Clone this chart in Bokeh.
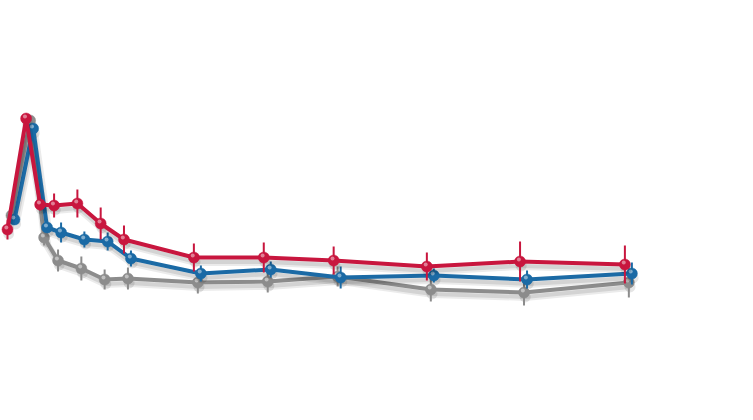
from bokeh.plotting import figure
from bokeh.models import Range1d, ColumnDataSource
from bokeh.embed import file_html
from bokeh.resources import INLINE

# time points (hours)
hours = [0, 0.8, 1.4, 2, 3, 4, 5, 8, 11, 14, 18, 22, 26.5]

red_vals = [50.5, 106, 63, 62.5, 63.5, 53.5, 45.5, 36.5, 36.5, 35, 32, 34.5, 33]
red_err = [5, 0, 3, 6, 7, 8, 7, 7, 7.5, 7, 7, 10, 9.5]

blue_vals = [55.5, 101, 51.5, 49, 45.5, 44.5, 36, 28.5, 30.5, 26.5, 27.5, 25.5, 28.5]
blue_err = [2, 0, 2.5, 5, 4, 4.5, 4, 4, 4, 5.5, 3.5, 4.5, 5.5]

gray_vals = [57.5, 105, 46.5, 35, 31, 25.5, 26, 24, 24.5, 27, 20.5, 19, 24]
gray_err = [2, 0, 4, 5.5, 6, 5, 5.5, 5.5, 5.5, 5, 6, 6.5, 7.5]

series = [
    ("gray", gray_vals, gray_err, "#8c8c8c", 0.0),
    ("blue", blue_vals, blue_err, "#1b6aa5", 0.13),
    ("red", red_vals, red_err, "#c8163e", -0.17),
]

p = figure(width=753, height=420, output_backend="svg", toolbar_location=None,
           x_range=Range1d(-0.47, 31.85), y_range=Range1d(-45, 165),
           min_border=0, outline_line_color=None)
p.axis.visible = False
p.grid.visible = False
p.background_fill_color = "white"
p.border_fill_color = "white"

for name, vals, errs, color, dx in series:
    xs = [h + dx for h in hours]
    src = ColumnDataSource(dict(
        x=xs, y=vals,
        lo=[v - e for v, e in zip(vals, errs)],
        hi=[v + e for v, e in zip(vals, errs)],
        sx=[x + 0.05 for x in xs], sy=[v - 2.2 for v in vals],
        hx=[x - 0.05 for x in xs], hy=[v + 1.0 for v in vals],
    ))
    # soft shadow
    p.line("sx", "sy", source=src, line_color="#000000", line_alpha=0.08, line_width=8)
    p.line("sx", "sy", source=src, line_color="#000000", line_alpha=0.10, line_width=4)
    p.scatter("sx", "sy", source=src, size=11, fill_color="#000000", fill_alpha=0.10, line_color=None)
    # error bars
    p.segment("x", "lo", "x", "hi", source=src, line_color=color, line_width=2)
    # line
    p.line("x", "y", source=src, line_color=color, line_width=4)
    # markers
    p.scatter("x", "y", source=src, size=11, fill_color=color, line_color=color, line_width=0.5)
    p.scatter("hx", "hy", source=src, size=4, fill_color="white", fill_alpha=0.45, line_color=None)

open("out.html", "w").write(file_html(p, INLINE))
